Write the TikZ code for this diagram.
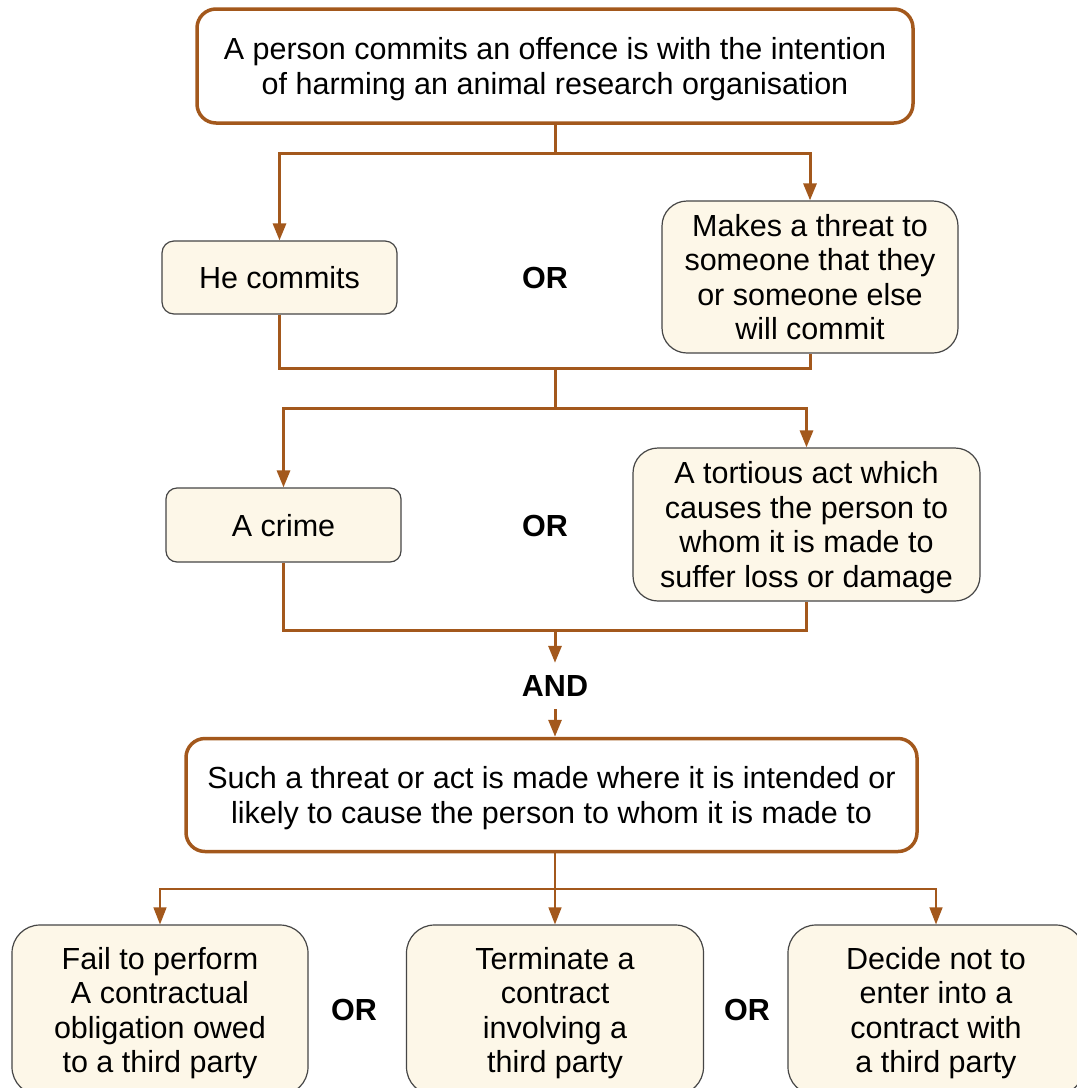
\documentclass[tikz,border=0pt]{standalone}
\usepackage{fontspec}
\setmainfont{Liberation Sans}
\usetikzlibrary{arrows.meta}
\definecolor{brn}{RGB}{163,88,28}
\definecolor{cream}{RGB}{253,247,232}
\definecolor{edgegray}{RGB}{70,70,70}
\begin{document}
\begin{tikzpicture}[x=1pt,y=-1pt,
  txt/.style={align=center, font=\fontsize{30.5}{34.5}\selectfont, inner sep=0pt, text depth=0pt},
  mainbox/.style={txt, draw=brn, line width=3.5pt, rounded corners=19pt, fill=white},
  optbox/.style={txt, draw=edgegray, line width=1.2pt, fill=cream},
  conn/.style={draw=brn, line width=3pt},
  arr/.style={conn, -{Triangle[length=17pt,width=13pt]}},
  thinconn/.style={draw=brn, line width=1.3pt},
  thinarr/.style={thinconn, -{Triangle[length=17pt,width=13pt]}},
  lbl/.style={font=\bfseries\fontsize{30.5}{34}\selectfont, inner sep=0pt}]
\useasboundingbox (0,0) rectangle (1077,1088);
\clip (0,0) rectangle (1077,1088);
\fill[white] (0,0) rectangle (1077,1088);

\node[mainbox, minimum width=716pt, minimum height=114pt] (top) at (555,66)
  {A person commits an offence is with the intention\\of harming an animal research organisation};

\node[optbox, rounded corners=12pt, minimum width=235pt, minimum height=73pt] (he) at (279.5,277.5) {He commits};
\node[optbox, rounded corners=25pt, minimum width=296pt, minimum height=152pt] (mk) at (810,277)
  {Makes a threat to\\someone that they\\or someone else\\will commit};
\node[lbl] (or1) at (545,278) {OR};

\node[optbox, rounded corners=11pt, minimum width=235pt, minimum height=74pt] (cr) at (283.5,525) {A crime};
\node[optbox, rounded corners=25pt, minimum width=347pt, minimum height=153pt] (tt) at (806.5,524.5)
  {A tortious act which\\causes the person to\\whom it is made to\\suffer loss or damage};
\node[lbl] (or2) at (545,526) {OR};

\node[lbl, minimum height=46pt] (and) at (555,686) {AND};

\node[mainbox, minimum width=731pt, minimum height=113pt] (such) at (551.5,795)
  {Such a threat or act is made where it is intended or\\likely to cause the person to whom it is made to};

\node[optbox, rounded corners=28pt, minimum width=296pt, minimum height=170pt] (fail) at (160,1010)
  {Fail to perform\\A contractual\\obligation owed\\to a third party};
\node[optbox, rounded corners=28pt, minimum width=297pt, minimum height=170pt] (term) at (555,1010)
  {Terminate a\\contract\\involving a\\third party};
\node[optbox, rounded corners=28pt, minimum width=296pt, minimum height=170pt] (dec) at (936,1010)
  {Decide not to\\enter into a\\contract with\\a third party};
\node[lbl] (or3) at (354,1010) {OR};
\node[lbl] (or4) at (747,1010) {OR};

\coordinate (j1) at (555,153);
\coordinate (j2) at (555,368);
\coordinate (j3) at (555,408);
\coordinate (j4) at (555,630);
\coordinate (j5) at (555,889);

\draw[conn] (top.south) -- (j1);
\draw[arr] (j1) -| (he.north);
\draw[arr] (j1) -| (mk.north);
\draw[conn] (he.south) |- (j2) -| (mk.south);
\draw[conn] (j2) -- (j3);
\draw[arr] (j3) -| (cr.north);
\draw[arr] (j3) -| (tt.north);
\draw[conn] (cr.south) |- (j4) -| (tt.south);
\draw[arr] (j4) -- (and.north);
\draw[arr] (and.south) -- (and.south |- such.north);
\draw[thinconn] (j5 |- such.south) -- (j5);
\draw[thinarr] (j5) -| (fail.north);
\draw[thinarr] (j5) -- (term.north);
\draw[thinarr] (j5) -| (dec.north);
\end{tikzpicture}
\end{document}
